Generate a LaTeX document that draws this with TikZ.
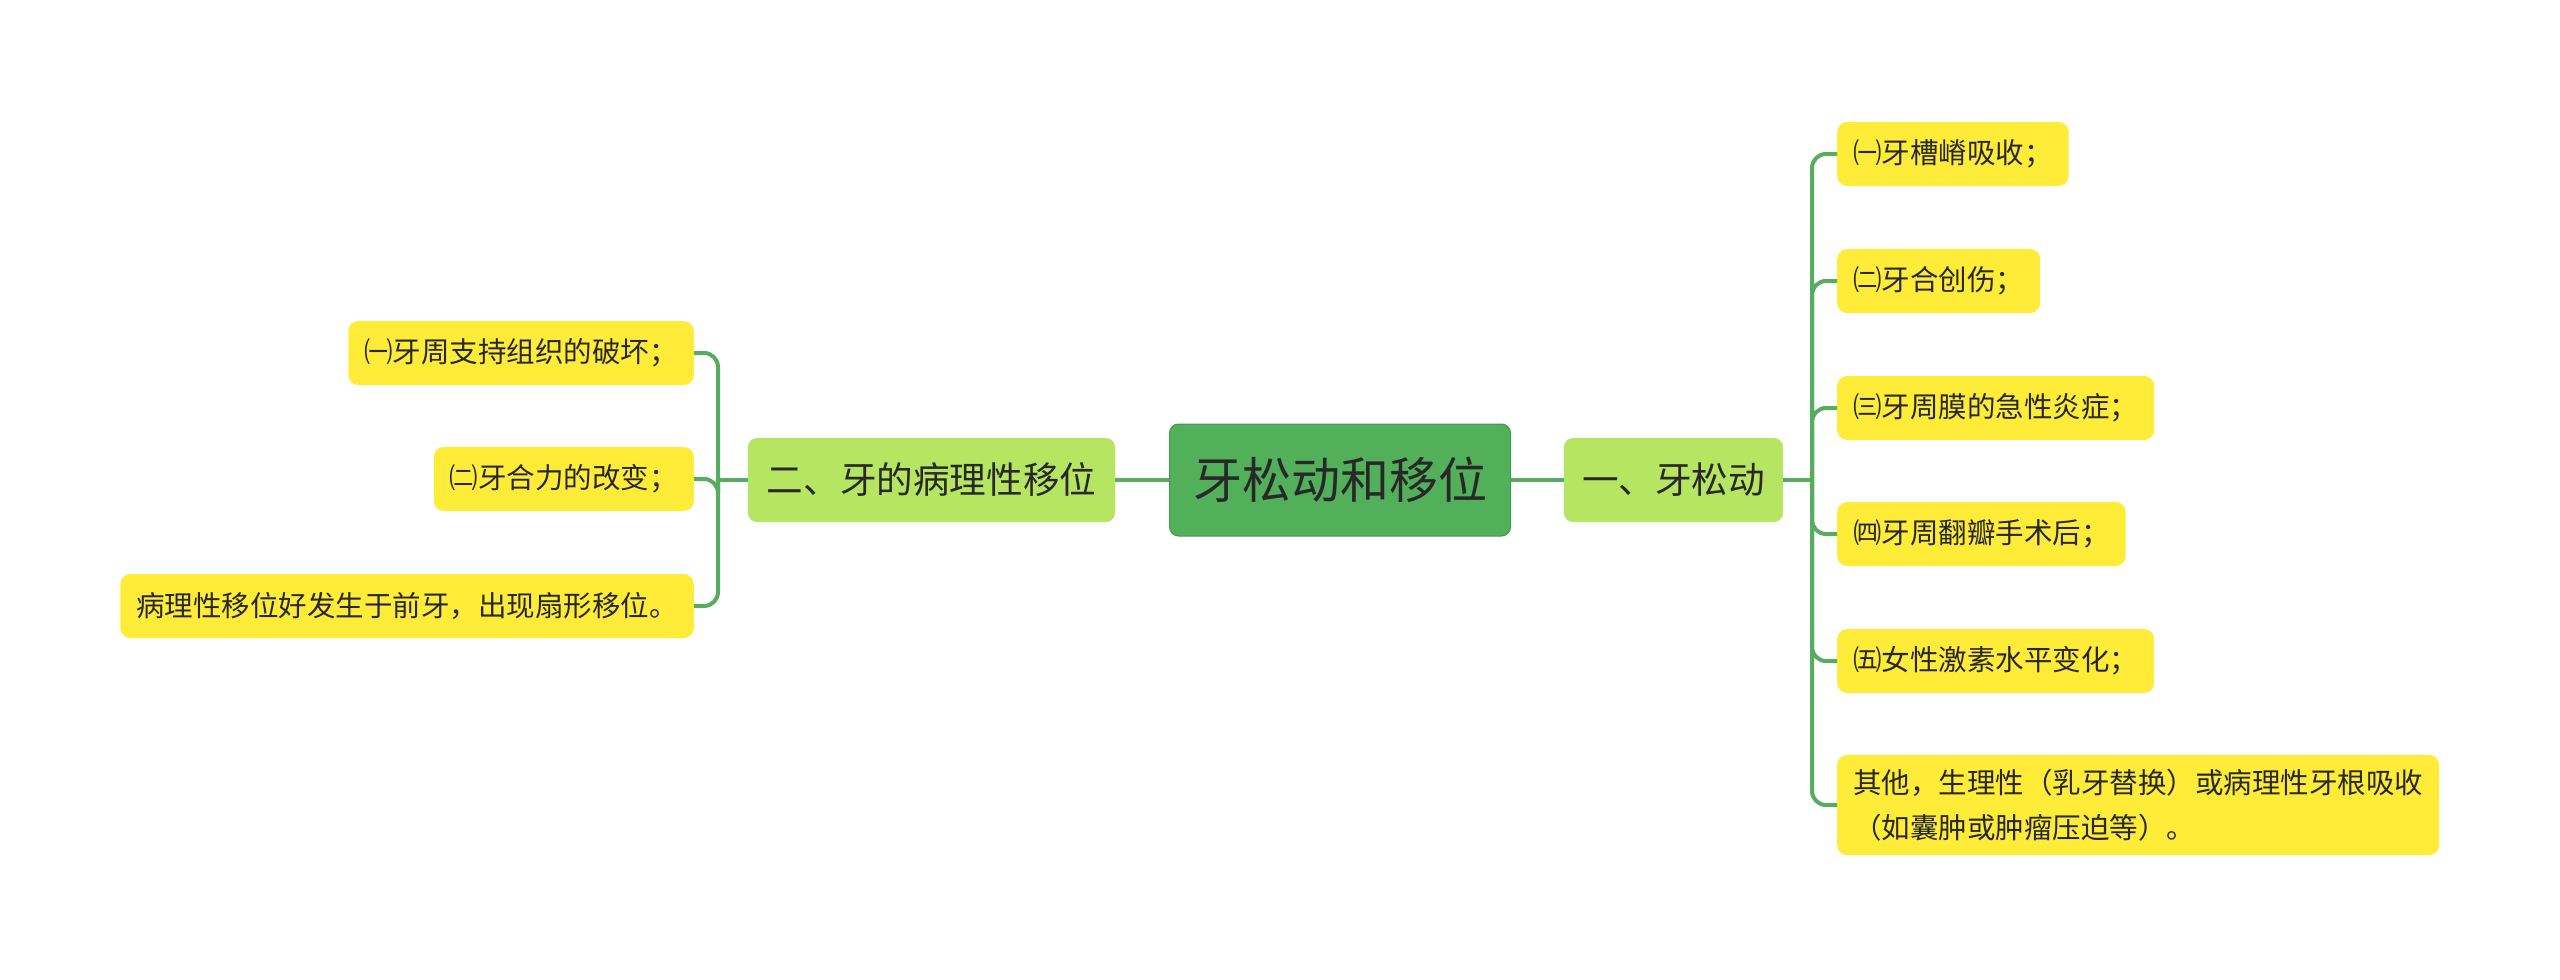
\documentclass[tikz,border=0pt]{standalone}
\usepackage{fontspec}
\setmainfont{Noto Sans CJK SC}
\definecolor{rootfill}{RGB}{82,175,90}
\definecolor{rootdraw}{RGB}{66,156,76}
\definecolor{lvlfill}{RGB}{182,229,98}
\definecolor{leaffill}{RGB}{255,236,56}
\definecolor{linec}{RGB}{88,172,96}
\definecolor{txt}{RGB}{40,40,40}
\begin{document}
\begin{tikzpicture}[x=1pt,y=-1pt,
  root/.style={fill=rootfill,draw=rootdraw,line width=1pt,rounded corners=9pt,
    minimum width=341pt,minimum height=112pt,text=txt,
    font=\fontsize{49pt}{56pt}\selectfont},
  lvl/.style={fill=lvlfill,draw=none,rounded corners=9pt,minimum height=84pt,
    text=txt,font=\fontsize{36.6pt}{44pt}\selectfont},
  leaf/.style={fill=leaffill,draw=none,rounded corners=10pt,minimum height=64pt,
    inner xsep=16pt,inner ysep=14pt,text=txt,align=left,
    font=\fontsize{28.5pt}{45pt}\selectfont},
  conn/.style={draw=linec,line width=4pt}]
\fill[white] (0,0) rectangle (2560,980);
\node[root] (root) at (1340,480) {牙松动和移位};
\node[lvl,minimum width=219pt] (r1) at (1673.5,480) {一、牙松动};
\node[lvl,minimum width=367pt] (l1) at (931.5,480) {二、牙的病理性移位};
\coordinate (rs) at (1812,480);
\coordinate (ls) at (718,480);
% right leaves
\node[leaf,anchor=west] (ra) at (1837,154) {㈠牙槽嵴吸收；};
\node[leaf,anchor=west] (rb) at (1837,281) {㈡牙合创伤；};
\node[leaf,anchor=west] (rc) at (1837,408) {㈢牙周膜的急性炎症；};
\node[leaf,anchor=west] (rd) at (1837,534) {㈣牙周翻瓣手术后；};
\node[leaf,anchor=west] (re) at (1837,661) {㈤女性激素水平变化；};
\node[leaf,anchor=west] (rf) at (1837,805) {其他，生理性（乳牙替换）或病理性牙根吸收\\（如囊肿或肿瘤压迫等）。};
% left leaves
\node[leaf,anchor=east] (la) at (694,353) {㈠牙周支持组织的破坏；};
\node[leaf,anchor=east] (lb) at (694,479) {㈡牙合力的改变；};
\node[leaf,anchor=east] (lc) at (694,606) {病理性移位好发生于前牙，出现扇形移位。};
% connectors
\draw[conn] (root.east) -- (r1.west);
\draw[conn] (root.west) -- (l1.east);
\draw[conn] (r1.east) -- (rs);
\draw[conn] (l1.west) -- (ls);
\foreach \n in {ra,rb,rc,rd,re,rf}
  \draw[conn,rounded corners=14pt] (rs) |- (\n.west);
\foreach \n in {la,lb,lc}
  \draw[conn,rounded corners=14pt] (ls) |- (\n.east);
\end{tikzpicture}
\end{document}
